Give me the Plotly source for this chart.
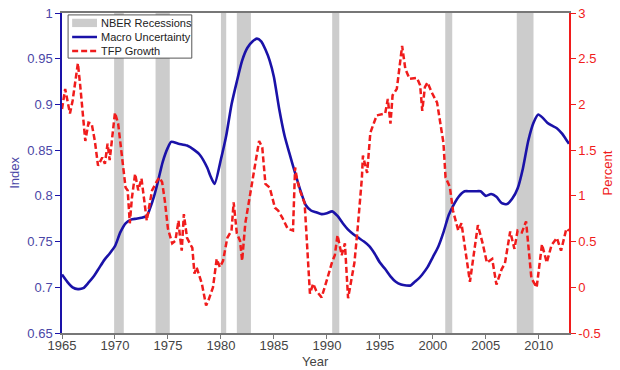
import plotly.graph_objects as go

# Macro uncertainty index (left axis)
unc_year = [1965, 1965.5, 1966, 1966.5, 1967, 1967.5, 1968, 1968.5, 1969, 1969.5,
            1970, 1970.5, 1971, 1971.5, 1972, 1972.5, 1973, 1973.3, 1973.7, 1974,
            1974.5, 1975, 1975.3, 1976, 1976.8, 1977.5, 1978, 1978.7, 1979, 1979.4,
            1980, 1980.5, 1981, 1981.5, 1982, 1982.5, 1983, 1983.4, 1983.8, 1984.2,
            1984.6, 1985, 1985.5, 1986, 1986.5, 1987, 1987.5, 1988, 1988.5, 1989,
            1989.5, 1990, 1990.5, 1991, 1991.5, 1992, 1992.5, 1993, 1993.5, 1994,
            1994.5, 1995, 1995.5, 1996, 1996.5, 1997, 1997.5, 1997.9, 1998.3, 1998.7,
            1999, 1999.5, 2000, 2000.5, 2001, 2001.5, 2002, 2002.5, 2003, 2003.5,
            2004, 2004.5, 2005, 2005.5, 2006, 2006.5, 2007, 2007.5, 2008, 2008.5,
            2009, 2009.5, 2009.95, 2010.4, 2010.8, 2011.2, 2011.7, 2012.2, 2012.5, 2012.85]
unc_val = [0.714, 0.706, 0.700, 0.698, 0.699, 0.705, 0.712, 0.721, 0.730, 0.737,
           0.745, 0.760, 0.770, 0.774, 0.775, 0.776, 0.778, 0.786, 0.800, 0.813,
           0.837, 0.853, 0.859, 0.857, 0.855, 0.850, 0.845, 0.831, 0.822, 0.813,
           0.840, 0.866, 0.900, 0.925, 0.948, 0.962, 0.969, 0.972, 0.969, 0.960,
           0.948, 0.930, 0.895, 0.866, 0.845, 0.825, 0.806, 0.790, 0.784, 0.782,
           0.780, 0.781, 0.783, 0.778, 0.770, 0.763, 0.758, 0.754, 0.750, 0.745,
           0.737, 0.727, 0.720, 0.712, 0.706, 0.703, 0.702, 0.702, 0.706, 0.710,
           0.714, 0.722, 0.733, 0.744, 0.760, 0.779, 0.791, 0.800, 0.805, 0.805,
           0.805, 0.805, 0.800, 0.802, 0.799, 0.792, 0.791, 0.797, 0.808, 0.830,
           0.860, 0.880, 0.889, 0.885, 0.880, 0.877, 0.874, 0.868, 0.863, 0.857]

# TFP growth, percent (right axis)
tfp_year = [1965.0, 1965.3, 1965.75, 1966.0, 1966.5, 1966.7, 1967.2, 1967.5, 1967.8, 1968.1,
            1968.4, 1968.8, 1969.05, 1969.3, 1969.5, 1970.0, 1970.3, 1970.7, 1971.0, 1971.2,
            1971.4, 1971.6, 1971.9, 1972.2, 1972.5, 1973.0, 1973.5, 1974.0, 1974.2, 1974.45,
            1974.7, 1975.0, 1975.4, 1975.7, 1976.0, 1976.1, 1976.3, 1976.5, 1976.8, 1977.3,
            1977.5, 1977.7, 1978.2, 1978.6, 1978.8, 1979.25, 1979.6, 1979.9, 1980.2, 1980.6,
            1981.0, 1981.2, 1981.5, 1981.8, 1982.0, 1982.3, 1982.5, 1983.0, 1983.4, 1983.6,
            1983.9, 1984.2, 1984.6, 1985.1, 1985.4, 1985.8, 1986.3, 1986.8, 1987.0, 1987.2,
            1987.45, 1987.9, 1988.4, 1988.7, 1989.0, 1989.5, 1990.0, 1990.5, 1990.75, 1991.0,
            1991.4, 1991.7, 1992.0, 1992.4, 1992.6, 1992.9, 1993.3, 1993.4, 1993.8, 1994.1,
            1994.7, 1995.5, 1995.75, 1996.0, 1996.2, 1996.6, 1996.8, 1997.1, 1997.4, 1997.8,
            1998.5, 1998.8, 1999.0, 1999.25, 1999.5, 1999.9, 2000.4, 2000.8, 2001.0, 2001.2,
            2001.6, 2001.9, 2002.4, 2002.7, 2003.5, 2004.25, 2004.7, 2005.1, 2005.6, 2006.0,
            2006.5, 2006.8, 2007.3, 2007.7, 2008.0, 2008.4, 2008.8, 2009.3, 2009.8, 2010.3,
            2010.75, 2011.2, 2011.7, 2012.1, 2012.6, 2012.85]
tfp_val = [1.95, 2.17, 1.90, 2.04, 2.45, 2.23, 1.60, 1.80, 1.79, 1.60,
           1.33, 1.42, 1.35, 1.57, 1.39, 1.91, 1.79, 1.39, 1.09, 1.06,
           0.70, 0.98, 1.24, 1.06, 1.19, 0.73, 1.06, 1.17, 1.20, 1.15,
           0.95, 0.64, 0.48, 0.51, 0.73, 0.59, 0.40, 0.80, 0.54, 0.43,
           0.15, 0.22, 0.04, -0.20, -0.15, 0.00, 0.31, 0.22, 0.29, 0.54,
           0.62, 0.93, 0.59, 0.51, 0.29, 0.70, 0.84, 1.17, 1.42, 1.60,
           1.53, 1.13, 1.09, 0.87, 0.84, 0.76, 0.64, 0.62, 1.31, 1.17,
           1.06, 0.92, -0.07, 0.04, -0.04, -0.11, 0.08, 0.28, 0.35, 0.57,
           0.35, 0.48, -0.12, 0.13, 0.27, 0.64, 1.19, 1.44, 1.25, 1.69,
           1.88, 1.90, 2.06, 1.79, 2.10, 2.17, 2.35, 2.64, 2.39, 2.28,
           2.29, 2.21, 1.93, 2.19, 2.24, 2.13, 2.02, 1.74, 1.58, 1.20,
           1.10, 0.84, 0.62, 0.70, 0.06, 0.68, 0.48, 0.27, 0.31, 0.03,
           0.20, 0.26, 0.61, 0.42, 0.62, 0.60, 0.72, 0.10, 0.00, 0.47,
           0.27, 0.46, 0.54, 0.40, 0.64, 0.62]

# NBER recessions (start, end)
rec_start = [1969.92, 1973.83, 1980.0, 1981.5, 1990.5, 2001.17, 2007.92]
rec_end = [1970.83, 1975.17, 1980.5, 1982.83, 1991.17, 2001.83, 2009.5]

x_ticks = [1965, 1970, 1975, 1980, 1985, 1990, 1995, 2000, 2005, 2010]
left_ticks = [0.65, 0.7, 0.75, 0.8, 0.85, 0.9, 0.95, 1]
left_labels = ["0.65", "0.7", "0.75", "0.8", "0.85", "0.9", "0.95", "1"]
right_ticks = [-0.5, 0, 0.5, 1, 1.5, 2, 2.5, 3]
right_labels = ["-0.5", "0", "0.5", "1", "1.5", "2", "2.5", "3"]

legend_names = ["NBER Recessions", "Macro Uncertainty", "TFP Growth"]

BLUE = "#1a12a8"
RED = "#f01c1c"
LBLUE = "#4a46a6"
GRAYTXT = "#444444"
RECGRAY = "#cccccc"
FONT = "Liberation Sans, Arial, sans-serif"

fig = go.Figure()

shapes = []
for s, e in zip(rec_start, rec_end):
    shapes.append(dict(type="rect", xref="x", yref="paper", x0=s, x1=e, y0=0, y1=1,
                       fillcolor=RECGRAY, line=dict(width=0), layer="below"))

fig.add_trace(go.Scatter(x=unc_year, y=unc_val, mode="lines", name=legend_names[1],
                         line=dict(color=BLUE, width=2.6, shape="spline", smoothing=0.6)))
fig.add_trace(go.Scatter(x=tfp_year, y=tfp_val, mode="lines", name=legend_names[2], yaxis="y2",
                         line=dict(color=RED, width=2.5, dash="6px,3px")))

# Legend box (drawn in paper coordinates)
shapes.append(dict(type="rect", xref="paper", yref="paper", x0=0.012, x1=0.256, y0=0.859, y1=0.994,
                   fillcolor="white", line=dict(color="#555555", width=1), layer="above"))
shapes.append(dict(type="rect", xref="paper", yref="paper", x0=0.020, x1=0.069, y0=0.956, y1=0.982,
                   fillcolor=RECGRAY, line=dict(width=0), layer="above"))
shapes.append(dict(type="line", xref="paper", yref="paper", x0=0.020, x1=0.069, y0=0.925, y1=0.925,
                   line=dict(color=BLUE, width=2.5), layer="above"))
shapes.append(dict(type="line", xref="paper", yref="paper", x0=0.020, x1=0.069, y0=0.881, y1=0.881,
                   line=dict(color=RED, width=2.5, dash="6px,3px"), layer="above"))

annotations = []
for name, yy in zip(legend_names, [0.969, 0.925, 0.881]):
    annotations.append(dict(text=name, xref="paper", yref="paper", x=0.073, y=yy,
                            xanchor="left", yanchor="middle", showarrow=False,
                            font=dict(size=11, color="#222222")))
annotations.append(dict(text="Index", xref="paper", yref="paper", x=-0.095, y=0.5,
                        xanchor="center", yanchor="middle", textangle=-90, showarrow=False,
                        font=dict(size=13, color=LBLUE)))
annotations.append(dict(text="Percent", xref="paper", yref="paper", x=1.074, y=0.5,
                        xanchor="center", yanchor="middle", textangle=-90, showarrow=False,
                        font=dict(size=13, color=RED)))
annotations.append(dict(text="Year", xref="paper", yref="paper", x=0.5, y=-0.09,
                        xanchor="center", yanchor="middle", showarrow=False,
                        font=dict(size=13, color=GRAYTXT)))

fig.update_layout(
    width=620, height=370,
    margin=dict(l=62, r=51, t=13, b=37, autoexpand=False),
    paper_bgcolor="white", plot_bgcolor="white",
    font=dict(family=FONT, size=13, color=GRAYTXT),
    shapes=shapes,
    annotations=annotations,
    showlegend=False,
    xaxis=dict(range=[1965, 2012.85], tickvals=x_ticks, ticks="outside", ticklen=4,
               tickcolor="#777777", linecolor="#777777", linewidth=1.5, mirror=True,
               showline=True, showgrid=False, zeroline=False, automargin=False,
               ticklabelstandoff=-4,
               tickfont=dict(size=13, color=GRAYTXT)),
    yaxis=dict(range=[0.65, 1], tickvals=left_ticks, ticktext=left_labels,
               ticks="outside", ticklen=5, tickcolor=BLUE, linecolor=BLUE, linewidth=1.5,
               showline=True, showgrid=False, zeroline=False, automargin=False,
               tickfont=dict(size=13, color=LBLUE)),
    yaxis2=dict(range=[-0.5, 3], tickvals=right_ticks, ticktext=right_labels,
                overlaying="y", side="right", anchor="x",
                ticks="outside", ticklen=5, tickcolor=RED, linecolor=RED, linewidth=1.5,
                showline=True, showgrid=False, zeroline=False, automargin=False,
                tickfont=dict(size=13, color=RED)),
)

fig.write_html("out.html", config={"displayModeBar": False},
               post_script="document.body.style.margin='0px';document.body.style.padding='0px';")
